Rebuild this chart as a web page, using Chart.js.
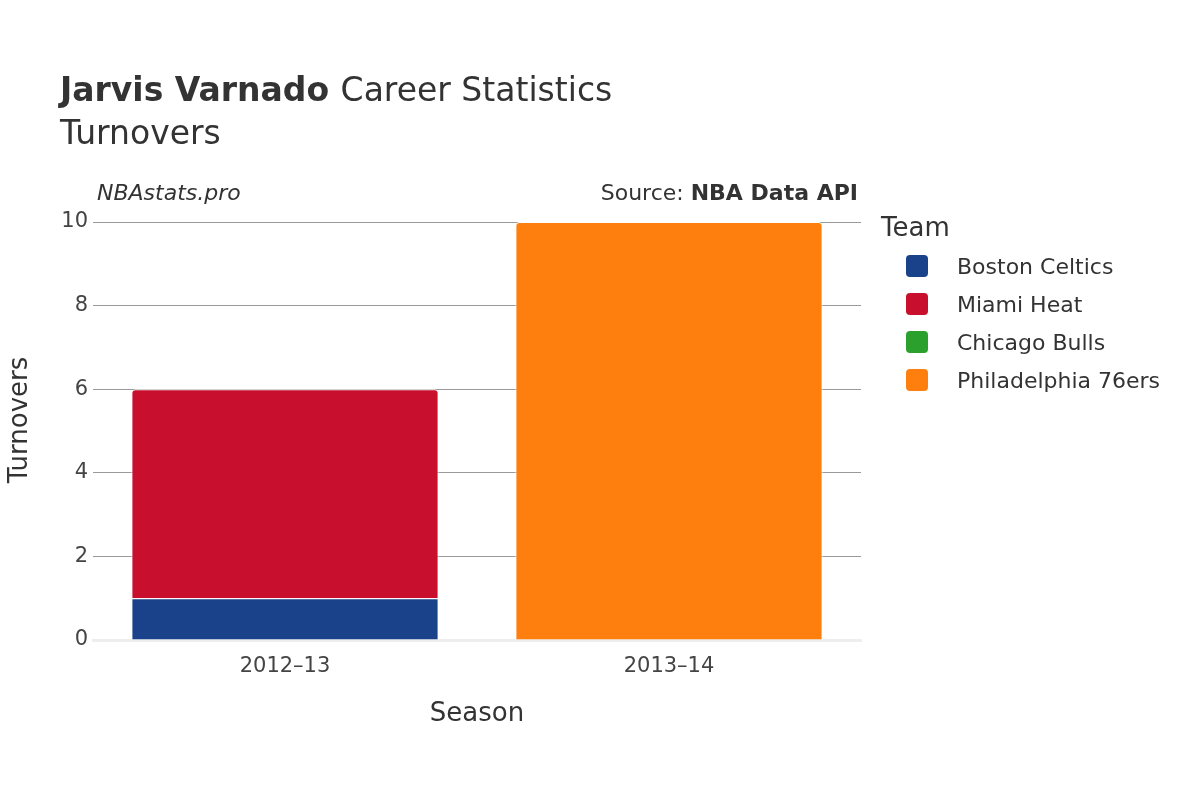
<!DOCTYPE html>
<html>
<head>
<meta charset="utf-8">
<script src="https://cdn.jsdelivr.net/npm/chart.js@4"></script>
<style>
  body { margin: 0; background: #fff; }
  #wrap { width: 1200px; height: 800px; position: relative; }
</style>
</head>
<body>
<div id="wrap"><canvas id="chart" width="1200" height="800"></canvas></div>
<script>
// Data
const seasons = ['2012\u201313', '2013\u201314'];
const teams = ['Boston Celtics', 'Miami Heat', 'Chicago Bulls', 'Philadelphia 76ers'];
const teamColors = ['#1a428a', '#c8102e', '#2ca02c', '#ff7f0e'];
const bostonValues = [1, 0];
const miamiValues = [5, 0];
const chicagoValues = [0, 0];
const phillyValues = [0, 10];
const yTicks = [0, 2, 4, 6, 8, 10];

const FONT = '"DejaVu Sans", "Noto Sans", sans-serif';
const seriesValues = [bostonValues, miamiValues, chicagoValues, phillyValues];

// Titles, annotations and legend are drawn straight on the canvas
const decorations = {
    id: 'decorations',
    afterDraw(chart) {
        const c = chart.ctx;
        c.save();
        c.fillStyle = '#333';
        c.textBaseline = 'alphabetic';
        c.textAlign = 'left';
        c.font = 'bold 33px ' + FONT;
        c.fillText('Jarvis Varnado', 60, 101);
        const w = c.measureText('Jarvis Varnado ').width;
        c.font = '33px ' + FONT;
        c.fillText('Career Statistics', 60 + w, 101);
        c.fillText('Turnovers', 60, 144);

        c.font = 'italic 22px ' + FONT;
        c.fillText('NBAstats.pro', 97, 200);
        c.textAlign = 'right';
        c.font = 'bold 22px ' + FONT;
        c.fillText('NBA Data API', 858, 200);
        const bw = c.measureText('NBA Data API').width;
        c.font = '22px ' + FONT;
        c.fillText('Source: ', 858 - bw, 200);

        // axis titles
        c.textAlign = 'center';
        c.font = '26px ' + FONT;
        c.fillText('Season', 477, 721);
        c.save();
        c.translate(27, 420);
        c.rotate(-Math.PI / 2);
        c.fillText('Turnovers', 0, 0);
        c.restore();

        // legend
        c.textAlign = 'left';
        c.font = '26px ' + FONT;
        c.fillText('Team', 881, 236);
        c.font = '22px ' + FONT;
        teams.forEach((t, i) => {
            const y = 266 + i * 38;
            c.fillStyle = teamColors[i];
            c.beginPath();
            c.roundRect(906, y - 11, 22, 22, 4);
            c.fill();
            c.fillStyle = '#333';
            c.fillText(t, 957, y + 8);
        });
        c.restore();
    }
};

new Chart(document.getElementById('chart'), {
    type: 'bar',
    data: {
        labels: seasons,
        datasets: teams.map((t, i) => ({
            label: t,
            data: seriesValues[i],
            backgroundColor: teamColors[i],
            borderColor: '#fff',
            borderWidth: 1,
            borderSkipped: 'bottom',
            borderRadius: i === 0 ? 0 : { topLeft: 4, topRight: 4 },
            barPercentage: 0.8,
            categoryPercentage: 1
        }))
    },
    options: {
        responsive: false,
        animation: false,
        layout: { padding: { top: 222, right: 339, left: 0, bottom: 0 } },
        plugins: { legend: { display: false }, tooltip: { enabled: false } },
        scales: {
            x: {
                stacked: true,
                afterFit: s => { s.height = 160; },
                grid: { display: false },
                border: { color: '#eee', width: 3 },
                ticks: { color: '#444', font: { size: 21, family: FONT }, padding: 6 }
            },
            y: {
                stacked: true,
                min: 0,
                max: 10,
                afterFit: s => { s.width = 93; },
                afterBuildTicks: s => { s.ticks = yTicks.map(v => ({ value: v })); },
                grid: {
                    color: ctx => ctx.tick && ctx.tick.value === 0 ? 'rgba(0,0,0,0)' : '#999',
                    drawTicks: false
                },
                border: { display: false },
                ticks: { color: '#444', font: { size: 21, family: FONT }, padding: 5 }
            }
        }
    },
    plugins: [decorations]
});
</script>
</body>
</html>
